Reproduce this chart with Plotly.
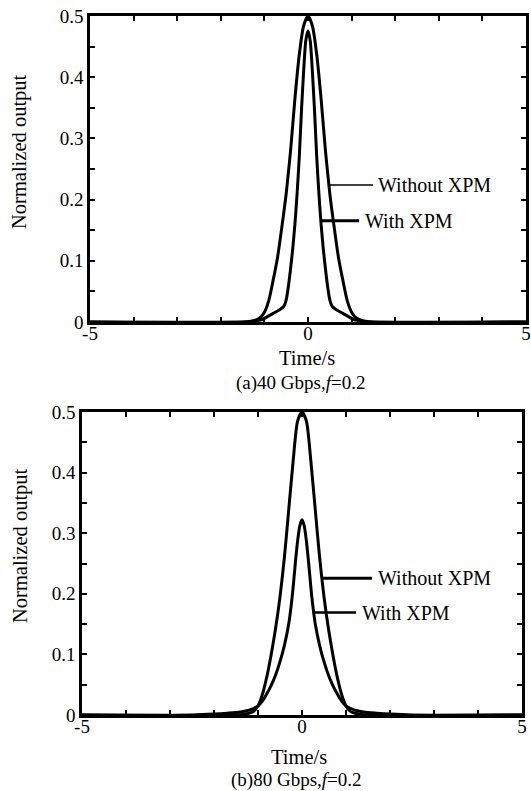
import plotly.graph_objects as go

# ---------------- data ----------------
# Panel (a) 40 Gbps, f=0.2
t_a_without = [-5, -1.5, -1.25, -1.1, -1.0, -0.9, -0.8, -0.7, -0.6, -0.5, -0.4, -0.3, -0.2, -0.1, 0,
               0.1, 0.2, 0.3, 0.4, 0.5, 0.6, 0.7, 0.8, 0.9, 1.0, 1.1, 1.25, 1.5, 5]
v_a_without = [0, 0, 0.002, 0.007, 0.016, 0.035, 0.068, 0.105, 0.155, 0.21, 0.28, 0.365, 0.437, 0.484, 0.5,
               0.484, 0.437, 0.365, 0.28, 0.21, 0.155, 0.105, 0.068, 0.035, 0.016, 0.007, 0.002, 0, 0]

t_a_with = [-5, -1.4, -1.25, -1.1, -1.0, -0.9, -0.8, -0.65, -0.55, -0.5, -0.45, -0.4, -0.35, -0.3, -0.25, -0.2,
            -0.15, -0.1, -0.05, 0,
            0.05, 0.1, 0.15, 0.2, 0.25, 0.3, 0.35, 0.4, 0.45, 0.5, 0.55, 0.65, 0.8, 0.9, 1.0, 1.1, 1.25, 1.4, 5]
v_a_with = [0, 0, 0.001, 0.003, 0.006, 0.01, 0.014, 0.02, 0.026, 0.036, 0.058, 0.087, 0.12, 0.16, 0.21, 0.27,
            0.345, 0.41, 0.46, 0.476,
            0.46, 0.41, 0.345, 0.27, 0.21, 0.16, 0.12, 0.087, 0.058, 0.036, 0.026, 0.02, 0.014, 0.01, 0.006, 0.003,
            0.001, 0, 0]

# Panel (b) 80 Gbps, f=0.2
t_b_without = [-5, -1.5, -1.25, -1.1, -1.0, -0.9, -0.8, -0.7, -0.6, -0.5, -0.4, -0.3, -0.2, -0.1, 0,
               0.1, 0.2, 0.3, 0.4, 0.5, 0.6, 0.7, 0.8, 0.9, 1.0, 1.1, 1.25, 1.5, 5]
v_b_without = [0, 0, 0.002, 0.006, 0.015, 0.034, 0.063, 0.1, 0.143, 0.195, 0.26, 0.34, 0.42, 0.485, 0.5,
               0.485, 0.42, 0.34, 0.26, 0.195, 0.143, 0.1, 0.063, 0.034, 0.015, 0.006, 0.002, 0, 0]

t_b_with = [-5, -2.5, -2.0, -1.7, -1.4, -1.2, -1.0, -0.9, -0.8, -0.7, -0.6, -0.5, -0.4, -0.3, -0.25, -0.2, -0.15,
            -0.1, -0.05, 0,
            0.05, 0.1, 0.15, 0.2, 0.25, 0.3, 0.4, 0.5, 0.6, 0.7, 0.8, 0.9, 1.0, 1.2, 1.4, 1.7, 2.0, 2.5, 5]
v_b_with = [0, 0, 0.0015, 0.003, 0.005, 0.008, 0.015, 0.023, 0.035, 0.049, 0.066, 0.088, 0.115, 0.151, 0.178,
            0.212, 0.252, 0.287, 0.312, 0.322,
            0.312, 0.287, 0.252, 0.212, 0.178, 0.151, 0.115, 0.088, 0.066, 0.049, 0.035, 0.023, 0.015, 0.008, 0.005,
            0.003, 0.0015, 0, 0]

x_tickvals = [-5, -4, -3, -2, -1, 0, 1, 2, 3, 4, 5]
x_ticktext = ["-5", "", "", "", "", "0", "", "", "", "", "5"]
y_tickvals = [0, 0.05, 0.1, 0.15, 0.2, 0.25, 0.3, 0.35, 0.4, 0.45, 0.5]
y_ticktext = ["0", "", "0.1", "", "0.2", "", "0.3", "", "0.4", "", "0.5"]

label_without = "Without XPM"
label_with = "With XPM"
x_title = "Time/s"
y_title = "Normalized output"
caption_a = "(a)40 Gbps,<i>f</i>=0.2"
caption_b = "(b)80 Gbps,<i>f</i>=0.2"

# ---------------- figure ----------------
W, H = 531, 791
FONT = "Liberation Serif"
fig = go.Figure()

line_style = dict(color="black", width=3, shape="spline", smoothing=0.7)
fig.add_trace(go.Scatter(x=t_a_without, y=v_a_without, mode="lines", line=line_style,
                         xaxis="x", yaxis="y", showlegend=False))
fig.add_trace(go.Scatter(x=t_a_with, y=v_a_with, mode="lines", line=line_style,
                         xaxis="x", yaxis="y", showlegend=False))
fig.add_trace(go.Scatter(x=t_b_without, y=v_b_without, mode="lines", line=line_style,
                         xaxis="x2", yaxis="y2", showlegend=False))
fig.add_trace(go.Scatter(x=t_b_with, y=v_b_with, mode="lines", line=line_style,
                         xaxis="x2", yaxis="y2", showlegend=False))

def px_x(p):
    return p / W

def px_y(p):
    return 1 - p / H

axis_common = dict(showline=True, linecolor="black", linewidth=2.5, mirror="ticks",
                   ticks="inside", ticklen=5, tickwidth=2, tickcolor="black",
                   showgrid=False, zeroline=False, automargin=False,
                   tickfont=dict(family=FONT, size=19, color="black"))

fig.update_layout(
    template="none",
    font=dict(family=FONT, color="black"),
    width=W, height=H,
    margin=dict(l=0, r=0, t=0, b=0, pad=0),
    paper_bgcolor="white", plot_bgcolor="white",
    xaxis=dict(domain=[px_x(90), px_x(526)], range=[-5, 5], anchor="y", ticklabelstandoff=-8,
               tickmode="array", tickvals=x_tickvals, ticktext=x_ticktext, **axis_common),
    yaxis=dict(domain=[px_y(322), px_y(16)], range=[0, 0.5], anchor="x",
               tickmode="array", tickvals=y_tickvals, ticktext=y_ticktext, **axis_common),
    xaxis2=dict(domain=[px_x(82), px_x(522)], range=[-5, 5], anchor="y2", ticklabelstandoff=-8,
                tickmode="array", tickvals=x_tickvals, ticktext=x_ticktext, **axis_common),
    yaxis2=dict(domain=[px_y(715), px_y(412)], range=[0, 0.5], anchor="x2",
                tickmode="array", tickvals=y_tickvals, ticktext=y_ticktext, **axis_common),
)

# pointer lines for the curve labels
pointer = [
    ("x", "y", 0.48, 1.49, 0.224, 1.5),
    ("x", "y", 0.29, 1.17, 0.1655, 3),
    ("x2", "y2", 0.45, 1.59, 0.2256, 3),
    ("x2", "y2", 0.29, 1.23, 0.169, 2.5),
]
for xr, yr, x0, x1, yv, w in pointer:
    fig.add_shape(type="line", xref=xr, yref=yr, x0=x0, x1=x1, y0=yv, y1=yv,
                  line=dict(color="black", width=w))

lab_font = dict(family=FONT, size=20, color="black")
for xr, yr, xv, yv, txt in [("x", "y", 1.57, 0.224, label_without),
                            ("x", "y", 1.25, 0.1655, label_with),
                            ("x2", "y2", 1.68, 0.2256, label_without),
                            ("x2", "y2", 1.32, 0.169, label_with)]:
    fig.add_annotation(xref=xr, yref=yr, x=xv, y=yv, text=txt, showarrow=False,
                       xanchor="left", yanchor="middle", font=lab_font)

title_font = dict(family=FONT, size=20.5, color="black")
cap_font = dict(family=FONT, size=19, color="black")
for yc in [152, 546]:
    fig.add_annotation(xref="paper", yref="paper", x=px_x(20), y=px_y(yc), text=y_title,
                       textangle=-90, showarrow=False, xanchor="center", yanchor="middle",
                       font=title_font)
fig.add_annotation(xref="paper", yref="paper", x=px_x(307), y=px_y(358), text=x_title,
                   showarrow=False, xanchor="center", yanchor="middle", font=title_font)
fig.add_annotation(xref="paper", yref="paper", x=px_x(299), y=px_y(757), text=x_title,
                   showarrow=False, xanchor="center", yanchor="middle", font=title_font)
fig.add_annotation(xref="paper", yref="paper", x=px_x(300), y=px_y(383), text=caption_a,
                   showarrow=False, xanchor="center", yanchor="middle", font=cap_font)
fig.add_annotation(xref="paper", yref="paper", x=px_x(296), y=px_y(780), text=caption_b,
                   showarrow=False, xanchor="center", yanchor="middle", font=cap_font)

fig.write_html("out.html", config={"displayModeBar": False},
               post_script="document.body.style.margin='0px';document.body.style.overflow='hidden';")
